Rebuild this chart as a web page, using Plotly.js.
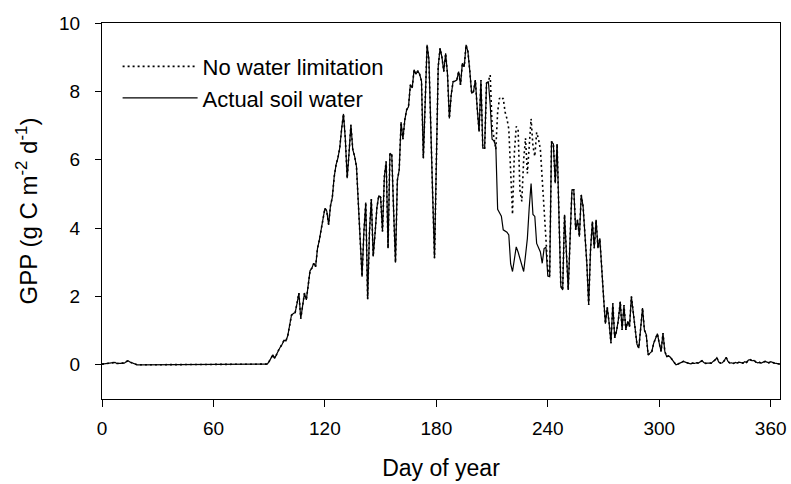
<!DOCTYPE html>
<html>
<head>
<meta charset="utf-8">
<script src="https://cdn.plot.ly/plotly-3.0.1.min.js"></script>
<style>
  html, body { margin: 0; padding: 0; background: #ffffff; }
  #chart { width: 791px; height: 484px; }
</style>
</head>
<body>
<div id="chart"></div>
<script>
// Daily gross primary production (g C m-2 d-1), day 0 to day 365
const firstDay = 0;

const gppActual = [
  // days 0-19
  0.02, 0.03, 0.04, 0.03, 0.05, 0.06, 0.08, 0.07, 0.04, 0.03,
  0.04, 0.05, 0.05, 0.09, 0.12, 0.08, 0.06, 0.03, 0.01, 0.00,
  // days 20-88 (dormant season)
  0, 0, 0, 0, 0, 0, 0, 0, 0, 0,
  0, 0, 0, 0, 0, 0, 0, 0, 0, 0,
  0, 0, 0, 0, 0, 0, 0, 0, 0, 0,
  0, 0, 0, 0, 0, 0, 0, 0, 0, 0,
  0, 0, 0, 0, 0, 0, 0, 0, 0, 0,
  0, 0, 0, 0, 0, 0, 0, 0, 0, 0,
  0, 0, 0, 0, 0, 0, 0, 0, 0,
  // days 89-129
  0.02, 0.10, 0.20, 0.29, 0.19, 0.32, 0.42, 0.52, 0.60, 0.72,
  0.70, 0.85, 1.10, 1.45, 1.50, 1.53, 1.80, 2.10, 1.35, 1.80,
  2.10, 1.90, 2.40, 2.75, 2.83, 2.97, 2.87, 3.40, 3.65, 3.95,
  4.30, 4.58, 4.50, 4.10, 4.65, 4.90, 5.50, 5.85, 6.05, 6.35,
  6.90,
  // days 130-169
  7.34, 6.60, 5.46, 6.20, 7.02, 6.30, 6.10, 5.80, 4.60, 3.40,
  2.58, 3.90, 4.75, 1.92, 3.90, 4.85, 3.17, 3.85, 4.60, 4.95,
  4.90, 3.90, 5.50, 5.95, 3.41, 6.19, 6.14, 4.50, 2.99, 5.40,
  5.70, 7.10, 6.60, 7.16, 7.46, 7.55, 8.19, 8.10, 8.63, 8.50,
  // days 170-208
  8.60, 8.50, 8.30, 6.04, 7.80, 9.36, 8.92, 6.68, 5.00, 3.12,
  6.48, 8.72, 9.26, 9.00, 8.58, 9.11, 8.50, 7.21, 7.90, 8.28,
  8.30, 8.33, 8.58, 8.19, 8.82, 8.72, 9.36, 9.16, 8.60, 7.94,
  7.99, 8.33, 7.50, 6.82, 8.33, 6.34, 6.34, 8.24, 8.29,
  // days 209-241 (soil water deficit)
  7.60, 6.60, 6.55, 6.40, 4.55, 4.45, 4.35, 3.95, 3.92, 3.88,
  3.80, 2.95, 2.73, 3.05, 3.45, 3.30, 3.10, 2.90, 2.73, 3.20,
  3.70, 4.60, 5.30, 4.40, 4.34, 3.55, 3.40, 3.30, 2.97, 3.40,
  3.44, 2.60, 2.58,
  // days 242-279
  6.53, 6.46, 5.31, 6.46, 4.53, 2.30, 2.19, 4.39, 3.30, 2.19,
  3.70, 5.12, 5.12, 3.95, 4.24, 3.75, 4.97, 4.63, 3.80, 2.97,
  1.75, 3.36, 4.19, 3.41, 4.24, 3.41, 3.70, 2.70, 2.00, 1.20,
  1.68, 1.23, 0.63, 1.80, 0.79, 0.99, 1.32, 1.85,
  // days 280-313
  1.02, 1.75, 1.02, 1.27, 1.12, 2.00, 1.52, 1.02, 0.60, 0.49,
  1.02, 1.66, 1.02, 0.88, 0.29, 0.33, 0.39, 0.63, 0.80, 0.91,
  0.63, 0.39, 0.93, 0.39, 0.24, 0.26, 0.22, 0.15, 0.06, 0.00,
  0.02, 0.05, 0.06, 0.10,
  // days 314-365
  0.08, 0.05, 0.04, 0.03, 0.05, 0.04, 0.06, 0.05, 0.08, 0.12,
  0.07, 0.04, 0.05, 0.06, 0.05, 0.10, 0.14, 0.21, 0.08, 0.05,
  0.06, 0.12, 0.22, 0.10, 0.05, 0.06, 0.04, 0.07, 0.05, 0.08,
  0.06, 0.05, 0.09, 0.07, 0.14, 0.15, 0.12, 0.13, 0.08, 0.06,
  0.07, 0.05, 0.08, 0.10, 0.08, 0.06, 0.09, 0.06, 0.05, 0.04,
  0.03, 0.02
];

// Without water limitation the run only departs from the actual one here
const noLimitStartDay = 209;
const gppNoLimitWindow = [
  8.48, 7.00, 6.60, 6.30, 7.40, 7.80, 7.75, 7.80, 7.40, 7.20,
  6.90, 5.60, 4.40, 6.20, 6.97, 6.90, 5.10, 4.78, 6.00, 6.63,
  5.60, 6.40, 7.20, 6.40, 6.10, 6.80, 6.60, 6.30, 5.40, 4.60,
  3.60, 2.80, 2.60
];

const xTicks = [0, 60, 120, 180, 240, 300, 360];
const seriesNames = ['No water limitation', 'Actual soil water'];

const days = gppActual.map((_, i) => firstDay + i);
const gppNoLimit = gppActual.map((v, i) => {
  const k = days[i] - noLimitStartDay;
  return (k >= 0 && k < gppNoLimitWindow.length) ? gppNoLimitWindow[k] : v;
});

const font = 'Liberation Sans, Arial, Helvetica, sans-serif';

const traces = [
  {
    x: days, y: gppActual, name: seriesNames[1], legendrank: 2,
    type: 'scatter', mode: 'lines',
    line: { color: '#000000', width: 1.2 }
  },
  {
    x: days, y: gppNoLimit, name: seriesNames[0], legendrank: 1,
    type: 'scatter', mode: 'lines',
    line: { color: '#000000', width: 1.6, dash: '2px,3px' }
  }
];

const layout = {
  width: 791, height: 484,
  margin: { l: 102, r: 11, t: 23, b: 85 },
  paper_bgcolor: '#ffffff', plot_bgcolor: '#ffffff',
  font: { family: font, color: '#000000', size: 19 },
  showlegend: true,
  legend: {
    x: 0.023, y: 0.94, xanchor: 'left', yanchor: 'top',
    bgcolor: 'rgba(0,0,0,0)', borderwidth: 0,
    font: { family: font, size: 22, color: '#000000' },
    itemwidth: 75, tracegroupgap: 0
  },
  xaxis: {
    range: [0, 365], tickvals: xTicks, ticktext: xTicks.map(String),
    ticks: 'outside', ticklen: 7, tickwidth: 1, tickcolor: '#000000',
    showline: true, linecolor: '#000000', linewidth: 1, mirror: true,
    showgrid: false, zeroline: false,
    tickfont: { family: font, size: 19 },
    ticklabelstandoff: 5,
    title: { text: 'Day of year', font: { family: font, size: 23 }, standoff: 22 }
  },
  yaxis: {
    range: [-1, 10], tick0: 0, dtick: 2,
    ticks: 'outside', ticklen: 6, tickwidth: 1, tickcolor: '#000000',
    showline: true, linecolor: '#000000', linewidth: 1, mirror: true,
    showgrid: false, zeroline: false,
    tickfont: { family: font, size: 19 },
    ticklabelstandoff: 11,
    title: { text: 'GPP (g C m<sup>-2</sup> d<sup>-1</sup>)', font: { family: font, size: 24 }, standoff: 14 }
  }
};

Plotly.newPlot('chart', traces, layout, { staticPlot: true, displayModeBar: false });
</script>
</body>
</html>
